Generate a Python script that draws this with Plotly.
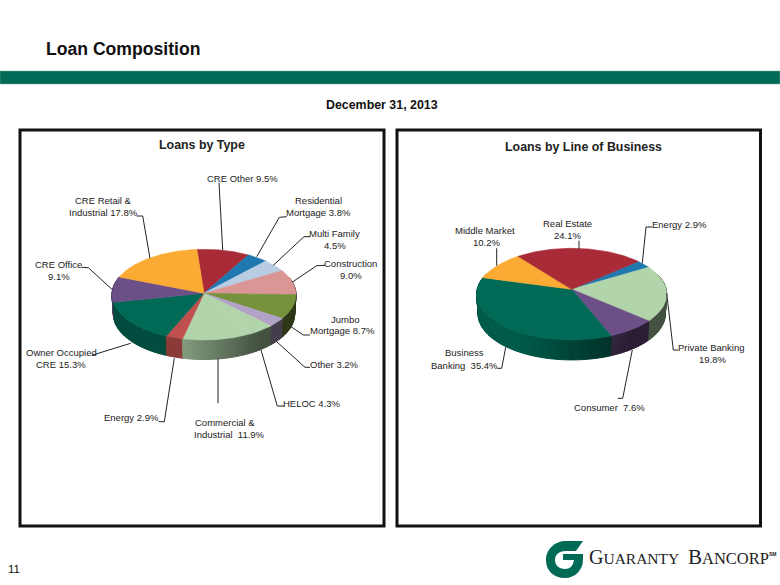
import math
import plotly.graph_objects as go

# Loans by Type, clockwise from the CRE Other slice
type_names = ['CRE Other', 'Residential Mortgage', 'Multi Family', 'Construction', 'Jumbo Mortgage',
              'Other', 'HELOC', 'Commercial & Industrial', 'Energy', 'Owner Occupied CRE',
              'CRE Office', 'CRE Retail & Industrial']
type_values = [9.5, 3.8, 4.5, 9.0, 8.7, 3.2, 4.3, 11.9, 2.9, 15.3, 9.1, 17.8]
type_colors = ['#A92B37', '#1F78AE', '#B8CCE4', '#D99694', '#76923C', '#B3A2C7',
               '#B2D4AB', '#B2D4AB', '#C0504D', '#006A56', '#6C4F87', '#FBAB34']

# Loans by Line of Business, clockwise from the Energy slice
lob_names = ['Energy', 'Private Banking', 'Consumer', 'Business Banking', 'Middle Market', 'Real Estate']
lob_values = [2.9, 19.8, 7.6, 35.4, 10.2, 24.1]
lob_colors = ['#1F78AE', '#B2D4AB', '#6C4F87', '#006A56', '#FBAB34', '#A92B37']

FONT = 'Liberation Sans'
INK = '#222222'
GREEN = '#006A56'

# text line, x, y
type_labels = [
    ('CRE Other 9.5%', 242, 178.3),
    ('Residential', 318.3, 200), ('Mortgage 3.8%', 318.3, 212),
    ('Multi Family', 334.7, 233.3), ('4.5%', 334.7, 245.3),
    ('Construction', 350, 263.3), ('9.0%', 350.7, 275),
    ('Jumbo', 345.7, 319), ('Mortgage 8.7%', 342, 330.7),
    ('Other 3.2%', 334.3, 364.3),
    ('HELOC 4.3%', 312, 403),
    ('Commercial &', 225.3, 422.7), ('Industrial  11.9%', 229.3, 434.7),
    ('Energy 2.9%', 131.7, 417.3),
    ('Owner Occupied', 61, 352.7), ('CRE 15.3%', 61, 364.7),
    ('CRE Office', 58.7, 264.7), ('9.1%', 58.7, 276.7),
    ('CRE Retail &', 103.3, 200), ('Industrial 17.8%', 103.3, 212),
]
lob_labels = [
    ('Middle Market', 485, 230.7), ('10.2%', 486, 242.7),
    ('Real Estate', 567, 223), ('24.1%', 567.7, 235),
    ('Energy 2.9%', 679.3, 224),
    ('Private Banking', 711, 347), ('19.8%', 712, 359),
    ('Consumer  7.6%', 609, 407),
    ('Business', 464.3, 352.7), ('Banking  35.4%', 464.3, 365),
]

leaders = [
    [(219, 182.7), (222.7, 250)],
    [(286.7, 216.7), (279.3, 217.3), (256.7, 256.7)],
    [(310, 236.7), (304, 236.7), (273.3, 265.3)],
    [(325, 265.3), (316.7, 265.7), (292, 282.3)],
    [(310, 335), (303.3, 335), (290, 326)],
    [(310, 367.3), (305, 367.3), (276.7, 341.7)],
    [(284, 406), (277.3, 406), (261, 350)],
    [(218, 403.3), (218, 358.3)],
    [(158.7, 421.7), (164.3, 421.7), (174.3, 358.3)],
    [(91.7, 355.3), (130.7, 343.3)],
    [(81.7, 267.3), (88.3, 267.7), (112.7, 290)],
    [(136.7, 216), (142.7, 216), (150, 258.3)],
    [(496.7, 248.3), (496.7, 265.7)],
    [(579, 240.7), (579, 249)],
    [(652.3, 227), (646, 227), (642.3, 263.3)],
    [(678.3, 350), (673.3, 350), (666.7, 293.3)],
    [(617.7, 398.3), (622.7, 398.3), (632.3, 350)],
    [(497.3, 368.3), (501.7, 368.3), (505.7, 347.3)],
]


def project(pie, deg):
    # tilted disc with a little perspective, near edge comes out larger
    t = math.radians(deg)
    u, v = math.sin(t), -math.cos(t)
    r = 1 / (1 - pie['k'] * v)
    return pie['cx'] + pie['rx'] * u * r, pie['cy'] + pie['ry'] * v * r


def shade(color, f):
    rgb = [int(color[i:i + 2], 16) for i in (1, 3, 5)]
    return 'rgb(%d,%d,%d)' % tuple(round(c * f) for c in rgb)


def polygon(fig, xs, ys, color, width=0.6):
    fig.add_trace(go.Scatter(x=xs, y=ys, mode='lines', fill='toself', fillcolor=color,
                             line=dict(color=color, width=width), hoverinfo='skip', showlegend=False))


def draw_pie(fig, values, colors, pie):
    total = sum(values)
    spans = []
    a = pie['start']
    for val, col in zip(values, colors):
        b = a + 360 * val / total
        spans.append((a, b, col))
        a = b

    # side wall first, far pieces before near ones
    quads = []
    for a, b, col in spans:
        n = max(2, int((b - a) / 2))
        for i in range(n):
            a0 = a + (b - a) * i / n
            a1 = a + (b - a) * (i + 1) / n
            mid = (a0 + a1) / 2
            if -math.cos(math.radians(mid)) > -0.35:
                quads.append((-math.cos(math.radians(mid)), a0, a1, col))
    quads.sort()
    for _, a0, a1, col in quads:
        x0, y0 = project(pie, a0)
        x1, y1 = project(pie, a1)
        low = [(pie['cx'] + (x - pie['cx']) * 0.985, y + pie['depth']) for x, y in ((x1, y1), (x0, y0))]
        nx = ((x0 + x1) / 2 - pie['cx']) / pie['rx']
        f = min(pie['side_max'], max(0.38, 0.72 - 0.42 * (nx + 0.2)))
        polygon(fig, [x0, x1, low[0][0], low[1][0], x0], [y0, y1, low[0][1], low[1][1], y0], shade(col, f), 1)

    # top face
    for a, b, col in spans:
        n = max(2, int(b - a))
        pts = [project(pie, a + (b - a) * i / n) for i in range(n + 1)]
        xs = [pie['cx']] + [p[0] for p in pts] + [pie['cx']]
        ys = [pie['cy']] + [p[1] for p in pts] + [pie['cy']]
        polygon(fig, xs, ys, col)


def add_text(fig, text, x, y, size, bold=False, color=INK, anchor='center', family=FONT):
    fig.add_annotation(x=x, y=y, xref='x', yref='y', text='<b>%s</b>' % text if bold else text,
                       showarrow=False, xanchor=anchor, yanchor='middle',
                       font=dict(family=family, size=size, color=color))


fig = go.Figure()

draw_pie(fig, type_values, type_colors,
         dict(cx=204, cy=293.3, rx=92, ry=45.3, k=0.03, depth=19.5, start=-4.6, side_max=0.72))
draw_pie(fig, lob_values, lob_colors,
         dict(cx=571.7, cy=289.3, rx=94.5, ry=45.3, k=0.105, depth=20, start=48.8, side_max=0.85))

for pts in leaders:
    fig.add_trace(go.Scatter(x=[p[0] for p in pts], y=[p[1] for p in pts], mode='lines',
                             line=dict(color='#222222', width=1), hoverinfo='skip', showlegend=False))

for text, x, y in type_labels + lob_labels:
    add_text(fig, text, x, y, 9.5)

add_text(fig, 'Loan Composition', 44, 49, 17.6, bold=True, color='#111111', anchor='left')
add_text(fig, 'December 31, 2013', 382, 105, 12.4, bold=True, color='#111111')
add_text(fig, 'Loans by Type', 202, 145, 12.4, bold=True)
add_text(fig, 'Loans by Line of Business', 583, 147, 12.4, bold=True)
add_text(fig, '11', 14, 569, 11.5, color='#111111')

# company logo: wordmark plus the G mark
add_text(fig, 'G<span style="font-size:15.5px">UARANTY</span>', 587, 557, 20,
         color='#222222', anchor='left', family='Liberation Serif')
add_text(fig, 'B<span style="font-size:16.5px">ANCORP</span>', 686, 557, 21,
         color='#222222', anchor='left', family='Liberation Serif')
add_text(fig, 'SM', 773, 554, 5, bold=True, color='#222222')

g_mark = ('M 583 541 L 566 541 C 555 541 546 549 546 560 C 546 571 554 578 565 578 '
          'C 575 578 583 570 583 560 L 583 554 L 563 554 L 563 560 L 574 560 '
          'C 573 566 570 569 565 569 C 559 569 555 565 555 560 C 555 554 560 551 566 551 L 576 551 Z')

shapes = [
    dict(type='rect', x0=0, x1=780, y0=71, y1=84, fillcolor=GREEN, line=dict(color='#6fa89a', width=0.5)),
    dict(type='rect', x0=20, x1=384, y0=130, y1=526, line=dict(color='#111111', width=3)),
    dict(type='rect', x0=397, x1=760.5, y0=130, y1=526, line=dict(color='#111111', width=3)),
    dict(type='path', path=g_mark, fillcolor=GREEN, line_width=0, layer='above'),
]

fig.update_layout(
    width=780, height=585, margin=dict(l=0, r=0, t=0, b=0),
    paper_bgcolor='white', plot_bgcolor='white', showlegend=False, shapes=shapes,
    xaxis=dict(range=[0, 780], visible=False, fixedrange=True),
    yaxis=dict(range=[585, 0], visible=False, fixedrange=True),
)

fig.write_html('out.html', config=dict(displayModeBar=False), post_script="document.body.style.margin='0';")
